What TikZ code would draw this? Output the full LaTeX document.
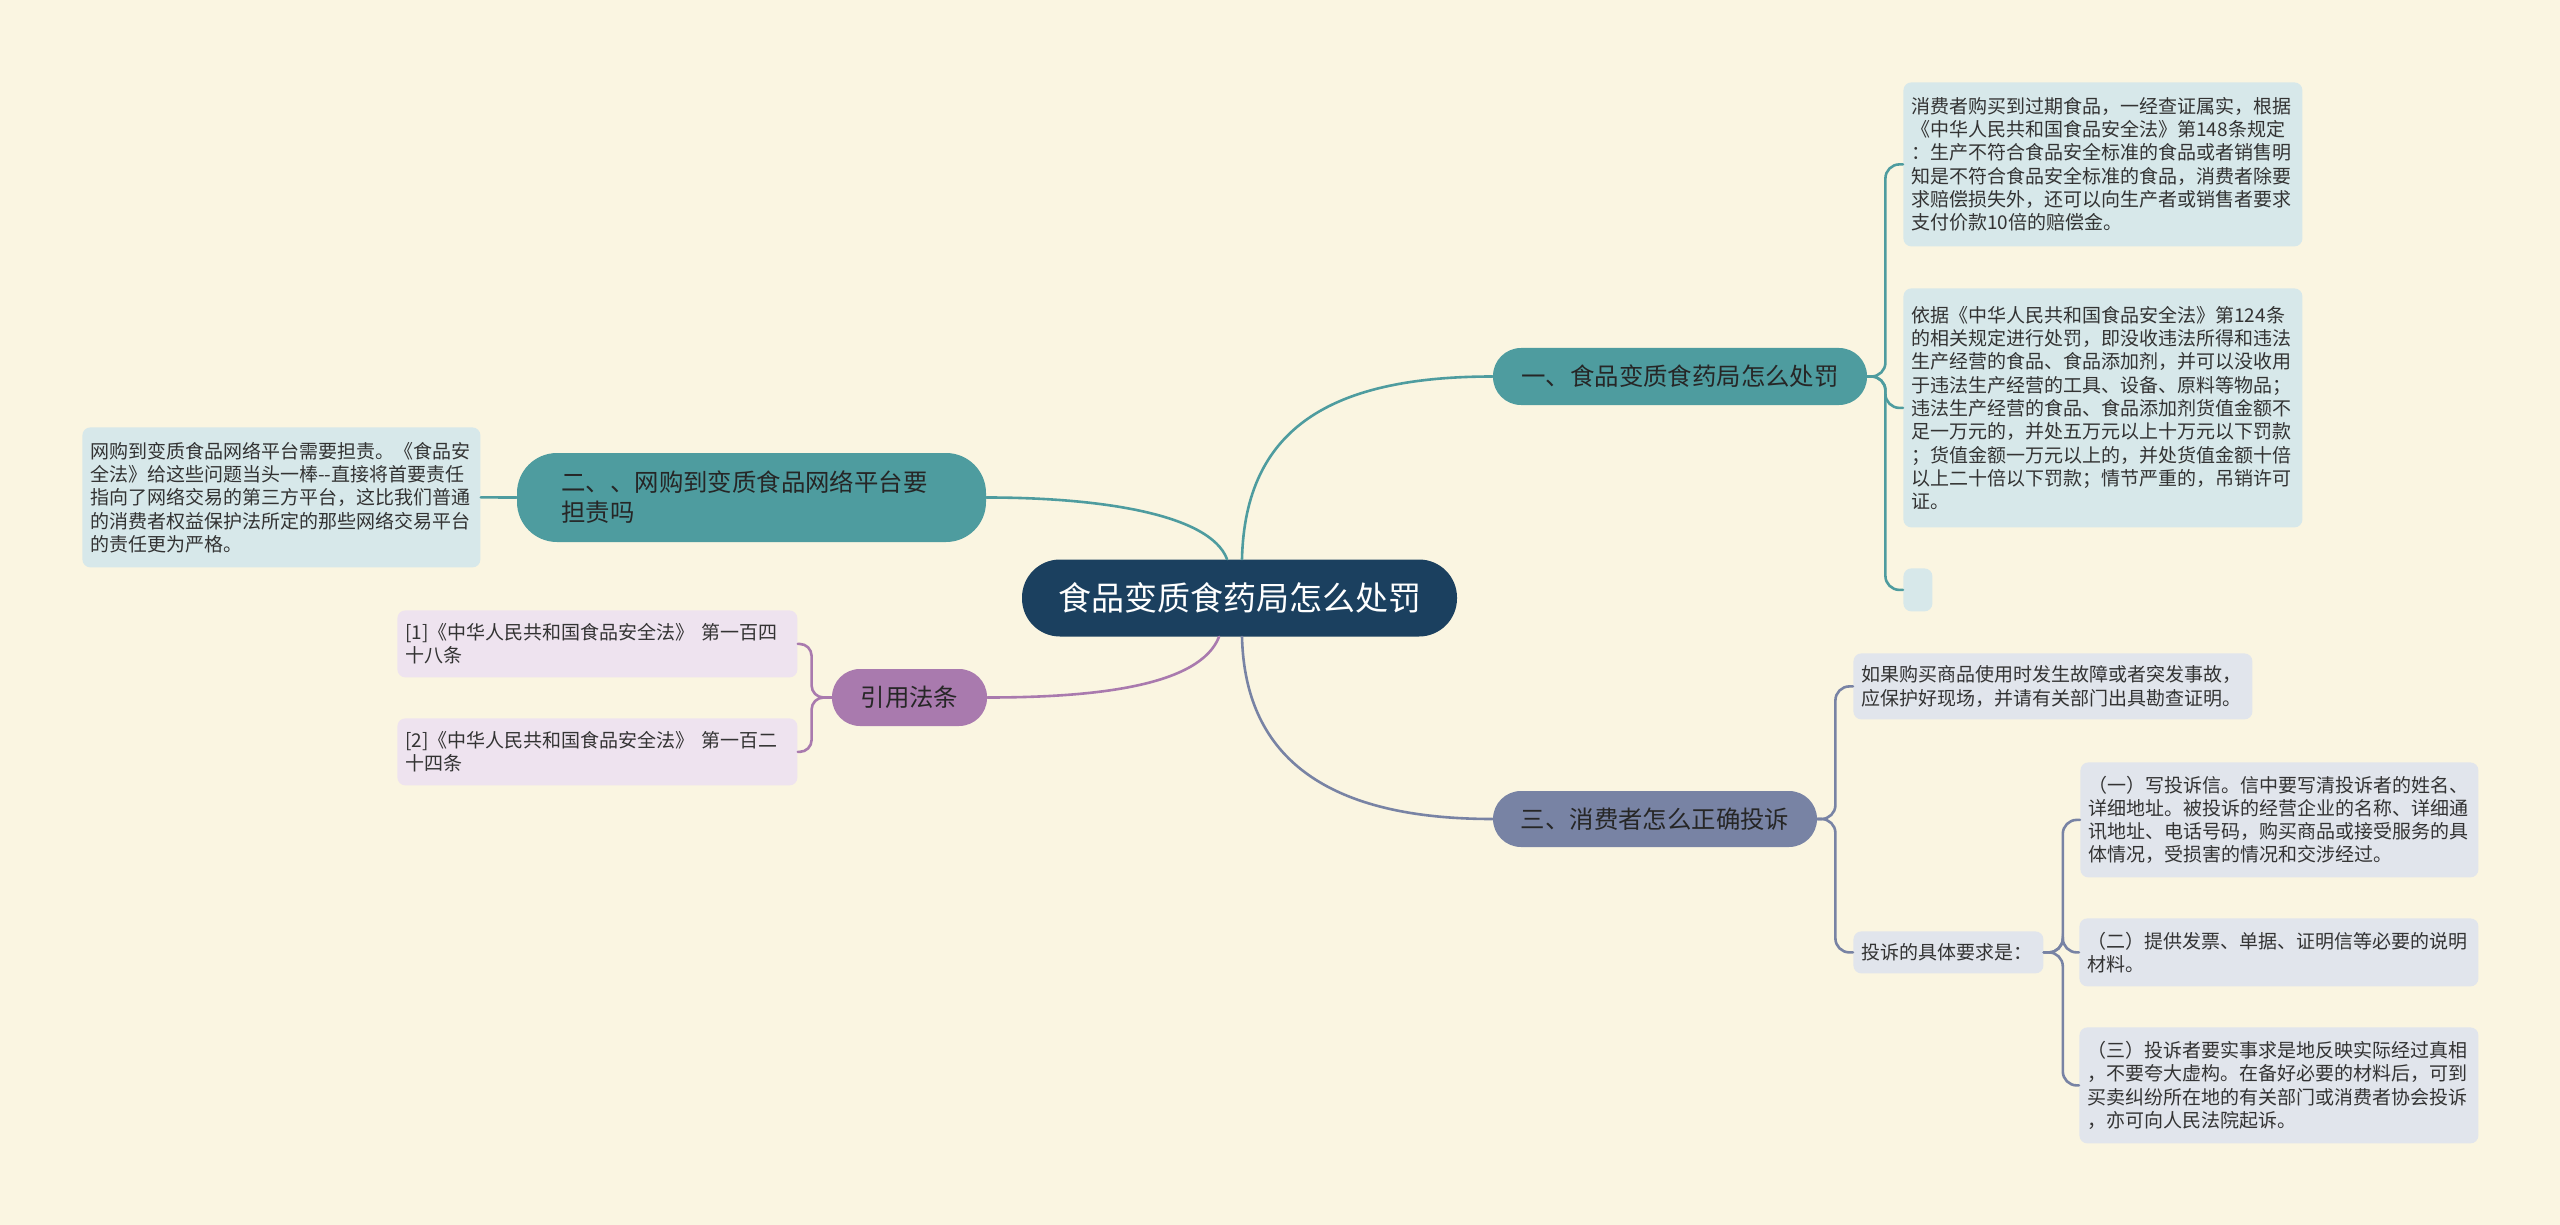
\documentclass[tikz,border=0pt]{standalone}
\usepackage{fontspec}
\setmainfont{Noto Sans CJK SC}
\usetikzlibrary{calc}
\definecolor{bgCream}{HTML}{FAF5E1}
\definecolor{mNavy}{HTML}{1B405F}
\definecolor{mTeal}{HTML}{4E9C9F}
\definecolor{mSlate}{HTML}{7883A4}
\definecolor{mPurple}{HTML}{A97AAE}
\definecolor{lTeal}{HTML}{D7E8EA}
\definecolor{lSlate}{HTML}{E1E5EC}
\definecolor{lPurple}{HTML}{EEE3EF}
\definecolor{txtGray}{HTML}{333333}

\begin{document}
\begin{tikzpicture}[x=0.5pt, y=-0.5pt,
      root/.style={fill=mNavy, text=white, rounded corners=19pt, minimum width=217.5pt,
        minimum height=38.5pt, font=\fontsize{16.5}{20}\selectfont},
      branch/.style={rounded corners=14pt, minimum height=28.5pt, inner xsep=0pt,
        text=black!85, font=\fontsize{12.2}{15}\selectfont},
      leaf/.style={anchor=north west, rounded corners=4pt, inner xsep=4pt, inner ysep=0pt,
        align=left, text=txtGray, font=\fontsize{9.5}{11.65}\selectfont},
      link/.style={line width=1.3pt, line cap=round}]
    % background
    \fill[bgCream] (0,0) rectangle (2560,1225);
    % root
    \node[root] (root) at (1239.5,598) {食品变质食药局怎么处罚};
    % branches
    \node[branch, fill=mTeal, minimum width=187pt] (b1) at (1680,376.5) {一、食品变质食药局怎么处罚};
    \node[branch, fill=mTeal, minimum width=234.5pt, minimum height=44.5pt, rounded corners=20pt,
      text width=190pt, align=left] (b2) at (751.5,497.5) {二、、网购到变质食品网络平台要\\担责吗};
    \node[branch, fill=mSlate, minimum width=162pt, minimum height=28pt] (b3) at (1655,819) {三、消费者怎么正确投诉};
    \node[branch, fill=mPurple, minimum width=77.5pt] (b4) at (909.5,697.5) {引用法条};
    % leaves of b1
    \node[leaf, fill=lTeal, text width=191.5pt, minimum height=82pt] (l1) at (1903,82)
      {消费者购买到过期食品，一经查证属实，根据\\
       《中华人民共和国食品安全法》第148条规定\\
       ：生产不符合食品安全标准的食品或者销售明\\
       知是不符合食品安全标准的食品，消费者除要\\
       求赔偿损失外，还可以向生产者或销售者要求\\
       支付价款10倍的赔偿金。};
    \node[leaf, fill=lTeal, text width=191.5pt, minimum height=119.5pt] (l2) at (1903,288)
      {依据《中华人民共和国食品安全法》第124条\\
       的相关规定进行处罚，即没收违法所得和违法\\
       生产经营的食品、食品添加剂，并可以没收用\\
       于违法生产经营的工具、设备、原料等物品；\\
       违法生产经营的食品、食品添加剂货值金额不\\
       足一万元的，并处五万元以上十万元以下罚款\\
       ；货值金额一万元以上的，并处货值金额十倍\\
       以上二十倍以下罚款；情节严重的，吊销许可\\
       证。};
    \node[leaf, fill=lTeal, minimum width=14.5pt, minimum height=21.5pt] (l3) at (1903,568) {};
    % leaf of b2
    \node[leaf, fill=lTeal, text width=191pt, minimum height=70pt] (bl) at (82,427)
      {网购到变质食品网络平台需要担责。《食品安\\
       全法》给这些问题当头一棒-{}-直接将首要责任\\
       指向了网络交易的第三方平台，这比我们普通\\
       的消费者权益保护法所定的那些网络交易平台\\
       的责任更为严格。};
    % leaves of b4
    \node[leaf, fill=lPurple, text width=192pt, minimum height=33.5pt] (r1) at (397,610)
      {{[1]}《中华人民共和国食品安全法》 第一百四\\十八条};
    \node[leaf, fill=lPurple, text width=192pt, minimum height=33.5pt] (r2) at (397,718)
      {{[2]}《中华人民共和国食品安全法》 第一百二\\十四条};
    % leaves of b3
    \node[leaf, fill=lSlate, text width=191.5pt, minimum height=33pt] (c1) at (1853,653)
      {如果购买商品使用时发生故障或者突发事故，\\应保护好现场，并请有关部门出具勘查证明。};
    \node[leaf, fill=lSlate, text width=87pt, minimum height=21pt] (c2) at (1853,931) {投诉的具体要求是：};
    \node[leaf, fill=lSlate, text width=191pt, minimum height=57.5pt] (c3) at (2080,762)
      {（一）写投诉信。信中要写清投诉者的姓名、\\
       详细地址。被投诉的经营企业的名称、详细通\\
       讯地址、电话号码，购买商品或接受服务的具\\
       体情况，受损害的情况和交涉经过。};
    \node[leaf, fill=lSlate, text width=191.5pt, minimum height=34pt] (c4) at (2079,918)
      {（二）提供发票、单据、证明信等必要的说明\\材料。};
    \node[leaf, fill=lSlate, text width=191.5pt, minimum height=58pt] (c5) at (2079,1027)
      {（三）投诉者要实事求是地反映实际经过真相\\
       ，不要夸大虚构。在备好必要的材料后，可到\\
       买卖纠纷所在地的有关部门或消费者协会投诉\\
       ，亦可向人民法院起诉。};
    % root to branches
    \draw[link, mTeal] ([xshift=1.25pt]root.north) .. controls +(3,-130) and +(-163,0) .. (b1.west);
    \draw[link, mTeal] ([xshift=-6.25pt]root.north) .. controls +(-17,-45) and +(114,0) .. (b2.east);
    \draw[link, mPurple] ([xshift=-10.25pt]root.south) .. controls +(-19,48) and +(113,0) .. (b4.east);
    \draw[link, mSlate] ([xshift=1.25pt]root.south) .. controls +(3,123) and +(-163,0) .. (b3.west);
    % branches to leaves
    \foreach \c in {l1,l2,l3}
      \draw[link, mTeal, rounded corners=7pt] (b1.east) -- ++(18,0) |- (\c.west);
    \draw[link, mTeal] (b2.west) -- (bl.east);
    \foreach \c in {r1,r2}
      \draw[link, mPurple, rounded corners=6pt] (b4.west) -- ++(-20,0) |- (\c.east);
    \foreach \c in {c1,c2}
      \draw[link, mSlate, rounded corners=7pt] (b3.east) -- ++(18,0) |- (\c.west);
    \foreach \c in {c3,c4,c5}
      \draw[link, mSlate, rounded corners=7pt] (c2.east) -- ++(19,0) |- (\c.west);
  \end{tikzpicture}
\end{document}
